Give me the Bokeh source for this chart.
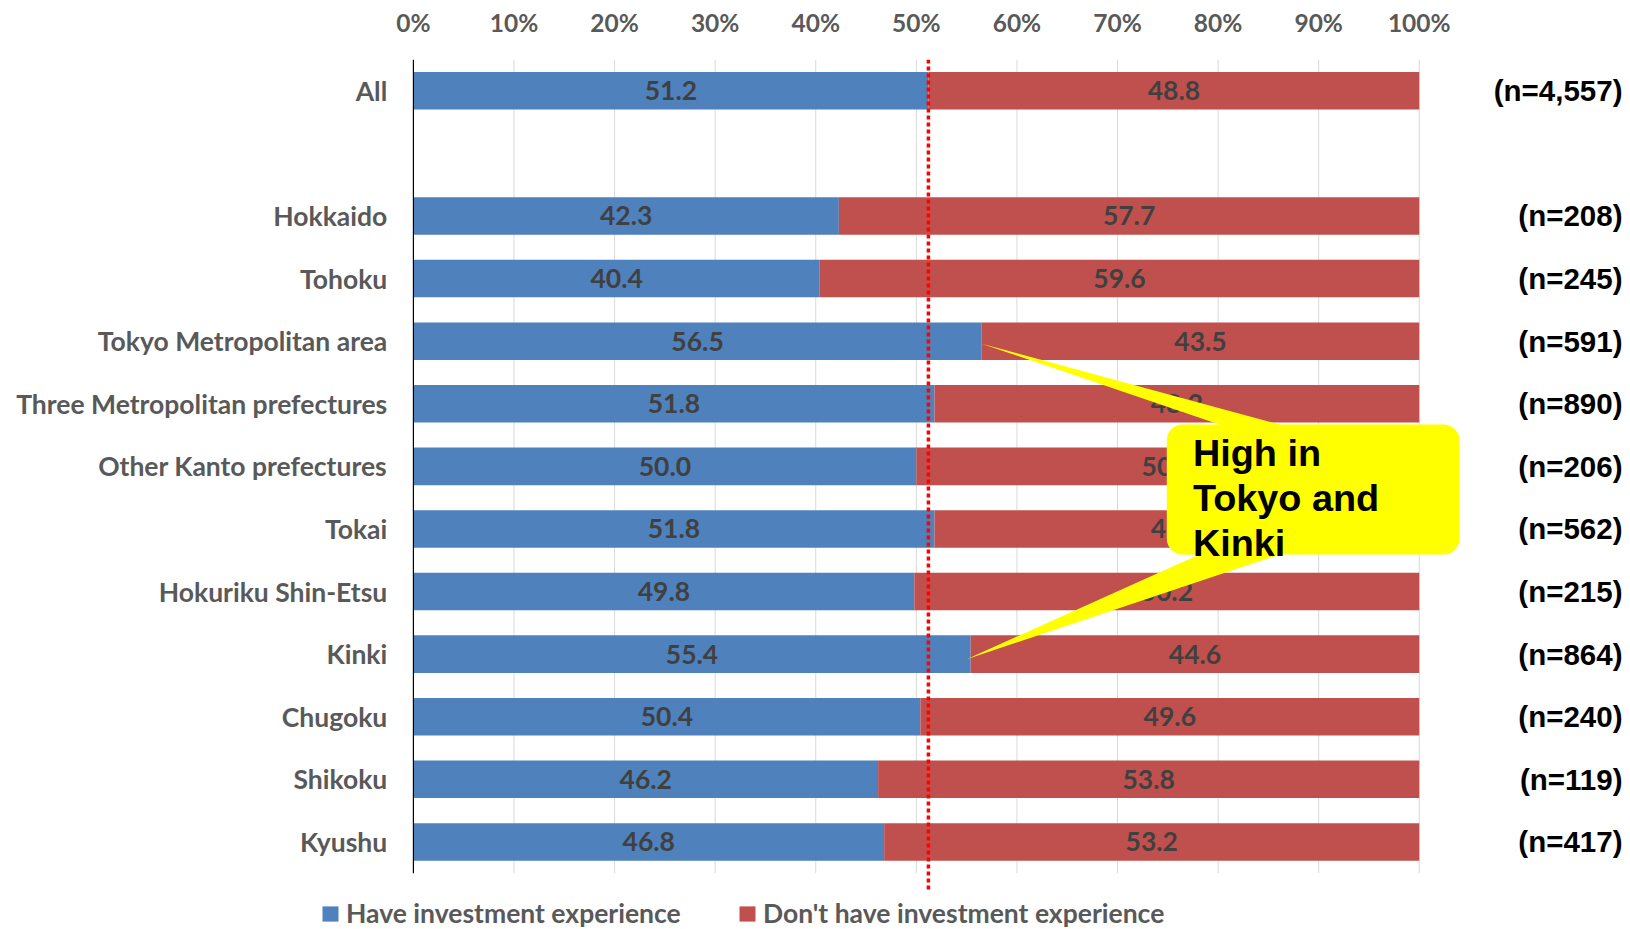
from bokeh.plotting import figure
from bokeh.models import (Range1d, FixedTicker, PrintfTickFormatter, ColumnDataSource,
                          Legend, LegendItem, BoxAnnotation)
from bokeh.core.properties import value
from bokeh.embed import file_html
from bokeh.resources import INLINE

# ---------------- data ----------------
categories = ["All", "Hokkaido", "Tohoku", "Tokyo Metropolitan area",
              "Three Metropolitan prefectures", "Other Kanto prefectures", "Tokai",
              "Hokuriku Shin-Etsu", "Kinki", "Chugoku", "Shikoku", "Kyushu"]
have = [51.2, 42.3, 40.4, 56.5, 51.8, 50.0, 51.8, 49.8, 55.4, 50.4, 46.2, 46.8]
dont_have = [48.8, 57.7, 59.6, 43.5, 48.2, 50.0, 48.2, 50.2, 44.6, 49.6, 53.8, 53.2]
n_labels = ["(n=4,557)", "(n=208)", "(n=245)", "(n=591)", "(n=890)", "(n=206)",
            "(n=562)", "(n=215)", "(n=864)", "(n=240)", "(n=119)", "(n=417)"]
x_ticks = [0, 10, 20, 30, 40, 50, 60, 70, 80, 90, 100]
series_names = ["Have investment experience", "Don't have investment experience"]
callout_lines = ["High in", "Tokyo and", "Kinki"]
callout_targets = ["Tokyo Metropolitan area", "Kinki"]

BLUE = "#4f81bd"
RED = "#c0504d"
GREY = "#595959"
DARK = "#404040"
LABEL_FONT = "Lato"
ARIAL = "Liberation Sans"
FS = "26.5px"

# slot positions: "All" on top, then one empty slot, then the regions
slots = [0] + [i + 1 for i in range(1, len(categories))]

left_red = have
right_red = [h + d for h, d in zip(have, dont_have)]
src = ColumnDataSource(dict(
    y=slots, cat=categories, have=have, dont=dont_have,
    zero=[0] * len(slots), left_red=left_red, right_red=right_red,
    have_mid=[h / 2 for h in have],
    dont_mid=[(l + r) / 2 for l, r in zip(left_red, right_red)],
    have_txt=["%.1f" % v for v in have],
    dont_txt=["%.1f" % v for v in dont_have],
    n=n_labels,
))

# frame spans the whole page; 0 % sits 413 px from the left edge
p = figure(width=1630, height=929,
           x_range=Range1d(-41.05, 121.0), y_range=Range1d(13.399, -0.5),
           x_axis_location="above", y_axis_location=None,
           output_backend="svg", toolbar_location=None,
           min_border_left=0, min_border_right=0, min_border_top=59,
           min_border_bottom=0)
p.outline_line_color = None
p.grid.visible = False
p.background_fill_color = "white"
p.border_fill_color = "white"

# top axis
xa = p.xaxis[0]
xa.ticker = FixedTicker(ticks=x_ticks)
xa.formatter = PrintfTickFormatter(format="%d%%")
xa.axis_line_color = None
xa.major_tick_line_color = None
xa.minor_tick_line_color = None
xa.major_label_standoff = 17
xa.major_label_text_font = LABEL_FONT
xa.major_label_text_font_style = "bold"
xa.major_label_text_font_size = "24.5px"
xa.major_label_text_color = GREY

top_edge = -0.5
bottom_edge = slots[-1] + 0.5

# gridlines
p.segment(x0=x_ticks[1:], y0=top_edge, x1=x_ticks[1:], y1=bottom_edge,
          line_color="#d9d9d9", line_width=1)

# bars
BAR_H = 0.60
r_have = p.hbar(y="y", left="zero", right="have", height=BAR_H, source=src,
                fill_color=BLUE, line_color=None)
r_dont = p.hbar(y="y", left="left_red", right="right_red", height=BAR_H, source=src,
                fill_color=RED, line_color=None)

# category axis line and labels
p.segment(x0=[0], y0=[top_edge], x1=[0], y1=[bottom_edge], line_color="black", line_width=1.2)
p.text(x=-2.6, y="y", text="cat", source=src, text_align="right",
       text_baseline="middle", text_font=value(LABEL_FONT), text_font_style="bold",
       text_font_size=FS, text_color=GREY)

# value labels
p.text(x="have_mid", y="y", text="have_txt", source=src, text_align="center",
       text_baseline="middle", text_font=value(LABEL_FONT), text_font_style="bold",
       text_font_size=FS, text_color=DARK)
p.text(x="dont_mid", y="y", text="dont_txt", source=src, text_align="center",
       text_baseline="middle", text_font=value(LABEL_FONT), text_font_style="bold",
       text_font_size=FS, text_color=DARK)

# n labels
p.text(x=120.2, y="y", text="n", source=src, text_align="right",
       text_baseline="middle", text_font=value(ARIAL), text_font_style="bold",
       text_font_size="29.5px", text_color="black")

# average reference line (All)
p.segment(x0=[have[0]], y0=[top_edge], x1=[have[0]], y1=[12.76],
          line_color="#ff0000", line_width=3.5, line_dash="4 3")

# callout
t_slot = slots[categories.index(callout_targets[0])]
k_slot = slots[categories.index(callout_targets[1])]
t_val = have[categories.index(callout_targets[0])]
k_val = have[categories.index(callout_targets[1])]
box_top, box_bottom = 5.33, 7.41
p.patches(xs=[[t_val, 81.0, 87.2], [k_val - 0.4, 78.8, 87.0]],
          ys=[[t_slot + 0.04, box_top + 0.05, box_top + 0.05],
              [k_slot + 0.08, box_bottom - 0.05, box_bottom - 0.05]],
          fill_color="#ffff00", line_color=None)
box = BoxAnnotation(left=74.9, right=104.0, top=box_top, bottom=box_bottom,
                    fill_color="#ffff00", fill_alpha=1.0, line_color=None,
                    border_radius=16)
p.add_layout(box)
txt = p.text(x=77.5, y=[5.79, 6.50, 7.22], text=callout_lines, text_align="left",
             text_baseline="middle", text_font=value(ARIAL), text_font_style="bold",
             text_font_size="37.8px", text_color="black")
txt.level = "overlay"

# legends (one per series, placed under the chart)
for item_renderer, name, loc in [(r_have, series_names[0], (320, 0)),
                                  (r_dont, series_names[1], (737, 0))]:
    leg = Legend(items=[LegendItem(label=name, renderers=[item_renderer])],
                 location=loc, orientation="horizontal", padding=0, margin=0,
                 border_line_color=None, background_fill_alpha=0,
                 glyph_width=20, glyph_height=19, label_standoff=6,
                 label_height=26, label_text_font=LABEL_FONT,
                 label_text_font_style="bold", label_text_font_size=FS,
                 label_text_color=GREY)
    p.add_layout(leg)

open("out.html", "w").write(file_html(p, INLINE))
